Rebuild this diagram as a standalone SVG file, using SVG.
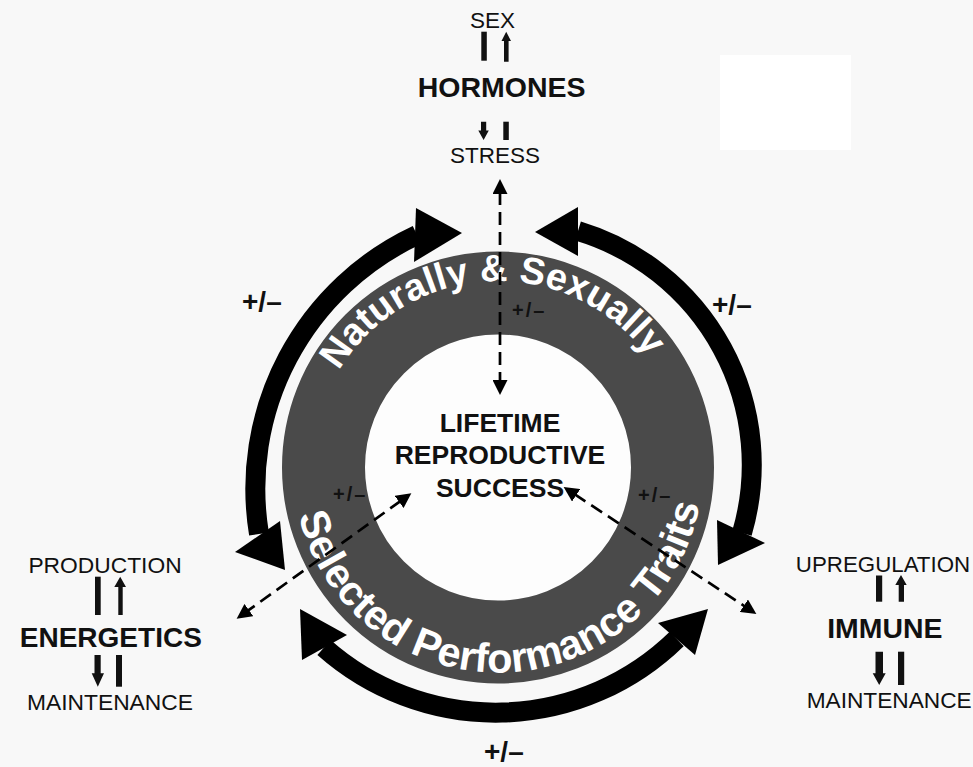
<svg xmlns="http://www.w3.org/2000/svg" width="973" height="767" viewBox="0 0 973 767">
  <defs>
    <style>
      .t { font-family: "Liberation Sans", Arial, Helvetica, sans-serif; fill: #111; }
      .b { font-weight: bold; }
      .ringtxt { font-family: "Liberation Sans", Arial, Helvetica, sans-serif; font-weight: bold; fill: #fff; }
      .band { fill: none; stroke: #000; stroke-width: 20; }
      .head { fill: #000; }
      .dash { fill: none; stroke: #000; stroke-width: 2.7; stroke-dasharray: 13 7; marker-start: url(#dh); marker-end: url(#dh); }
      .pm { font-weight: bold; font-size: 28px; }
      .pms { font-weight: bold; font-size: 20px; letter-spacing: 2px; }
      .ico { fill: #111; }
    </style>
    <!-- small head for the dashed two-way links -->
    <marker id="dh" viewBox="0 0 15 15" refX="2" refY="7.5" markerWidth="15" markerHeight="15" markerUnits="userSpaceOnUse" orient="auto-start-reverse">
      <path d="M0,0 L15,7.5 L0,15 z" fill="#000"/>
    </marker>
    <!-- baselines for the lettering inside the ring -->
    <path id="arcTop" d="M312.1,472.4 A186,186 0 0 1 683.7,456.1"/>
    <path id="arcBottom" d="M293.2,476.4 A205,205 0 0 0 703,465.7"/>
  </defs>

  <rect width="973" height="767" fill="#f8f8f8"/>
  <rect x="720" y="55" width="131" height="95" fill="#ffffff"/>

  <!-- ring of selected traits -->
  <g id="node-traits-ring">
    <circle cx="498" cy="467.5" r="133" fill="#fdfdfd"/>
    <circle cx="498" cy="467.5" r="174.5" fill="none" stroke="#4a4a4a" stroke-width="83"/>
    <text class="ringtxt" font-size="38" text-anchor="middle"><textPath href="#arcTop" startOffset="50%">Naturally &amp; Sexually</textPath></text>
    <text class="ringtxt" font-size="41.5" text-anchor="middle"><textPath href="#arcBottom" startOffset="50%">Selected Performance Traits</textPath></text>
  </g>

  <!-- centre -->
  <g id="node-lrs" class="t b" font-size="26.5" text-anchor="middle">
    <text x="500" y="432">LIFETIME</text>
    <text x="500" y="464">REPRODUCTIVE</text>
    <text x="500" y="496.5">SUCCESS</text>
  </g>

  <!-- hormones -->
  <g id="node-hormones">
    <text class="t" x="492.5" y="28.3" font-size="22.5" text-anchor="middle">SEX</text>
    <rect class="ico" x="481.3" y="31.7" width="5.5" height="29"/>
    <path class="ico" d="M504,61.7 V41 H501.5 L506.2,31.7 L511,41 H508.6 V61.7 Z"/>
    <text class="t b" x="501.7" y="96.7" font-size="28.5" text-anchor="middle">HORMONES</text>
    <path class="ico" d="M481,121.7 V130.5 H478.3 L483.6,140 L488.8,130.5 H486.2 V121.7 Z"/>
    <rect class="ico" x="503.3" y="121.7" width="5.5" height="18.3"/>
    <text class="t" x="495" y="163.3" font-size="22.5" text-anchor="middle">STRESS</text>
  </g>

  <!-- energetics -->
  <g id="node-energetics">
    <text class="t" x="105" y="573.3" font-size="22.8" text-anchor="middle">PRODUCTION</text>
    <rect class="ico" x="95" y="576.7" width="5.7" height="38.3"/>
    <path class="ico" d="M118.3,615 V587 H114.3 L120.2,576.7 L126,587 H122.7 V615 Z"/>
    <text class="t b" x="110.8" y="646.7" font-size="28" text-anchor="middle">ENERGETICS</text>
    <path class="ico" d="M94.5,655 V673.3 H91.7 L97.8,686.7 L104,673.3 H100.7 V655 Z"/>
    <rect class="ico" x="116" y="655" width="6" height="31.7"/>
    <text class="t" x="110" y="710" font-size="22.8" text-anchor="middle">MAINTENANCE</text>
  </g>

  <!-- immune -->
  <g id="node-immune">
    <text class="t" x="883" y="571.7" font-size="22.3" text-anchor="middle">UPREGULATION</text>
    <rect class="ico" x="876" y="575.5" width="6.2" height="26.2"/>
    <path class="ico" d="M898.7,601.7 V585 H895.3 L901,575 L906.7,585 H904 V601.7 Z"/>
    <text class="t b" x="884.8" y="638.3" font-size="28.4" text-anchor="middle">IMMUNE</text>
    <path class="ico" d="M875.5,651.7 V673.3 H872.7 L879.2,685 L885.7,673.3 H883 V651.7 Z"/>
    <rect class="ico" x="898" y="651.7" width="6.2" height="33.3"/>
    <text class="t" x="889.2" y="708.3" font-size="22.7" text-anchor="middle">MAINTENANCE</text>
  </g>

  <!-- connectors -->
  <g id="connectors">
    <!-- feedback arcs round the ring -->
    <g id="arc-left">
      <path class="band" d="M417,235 A280,280 0 0 0 259,534"/>
      <polygon class="head" points="416,208 462,233 414,262"/>
      <polygon class="head" points="235,552 285,570 280,521"/>
    </g>
    <g id="arc-right">
      <path class="band" d="M578,231 A244,244 0 0 1 742,533"/>
      <polygon class="head" points="578,207 535,232 578,256"/>
      <polygon class="head" points="717,520 718,565 765,543"/>
    </g>
    <g id="arc-bottom">
      <path class="band" d="M324,647.5 A259,259 0 0 0 676.7,639"/>
      <polygon class="head" points="300,609 302,660 347,635"/>
      <polygon class="head" points="708,609 658,623 695,655"/>
    </g>

    <!-- dashed two-way links to the centre -->
    <path class="dash" d="M500,192 V382"/>
    <path class="dash" d="M400.8,500.8 L247.2,611.2"/>
    <path class="dash" d="M574.5,494.2 L745.5,606.8"/>

    <!-- signs -->
    <text class="t pm" x="242" y="311">+/–</text>
    <text class="t pm" x="712" y="314">+/–</text>
    <text class="t pm" x="484" y="761">+/–</text>
    <text class="t pms" x="512" y="317">+/–</text>
    <text class="t pms" x="333" y="501">+/–</text>
    <text class="t pms" x="638" y="502">+/–</text>
  </g>
</svg>
